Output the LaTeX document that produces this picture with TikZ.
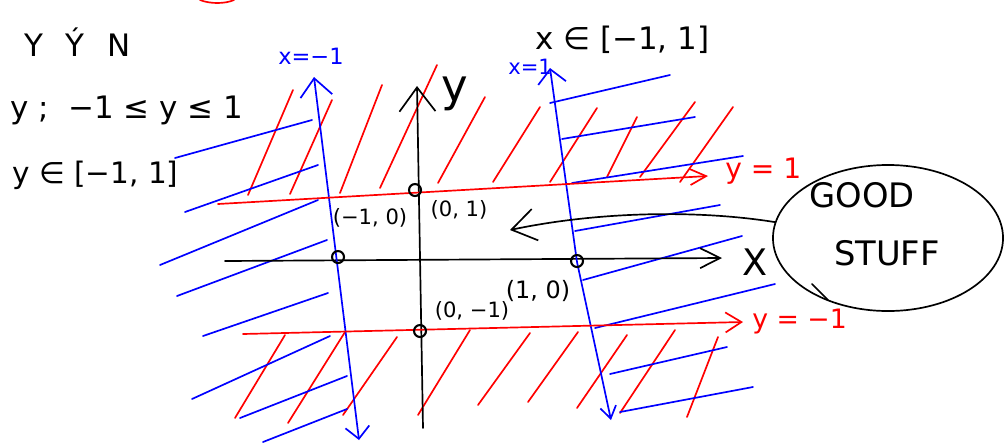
\documentclass[tikz,border=0pt]{standalone}
\usepackage{fontspec}
\setmainfont{DejaVu Sans}
\usetikzlibrary{arrows.meta,shapes.geometric}

\begin{document}
\begin{tikzpicture}[x=0.025cm,y=-0.025cm,
    pen/.style={line width=1.2pt,line cap=round,line join=round},
    dot/.style={circle,draw,line width=1.5pt,inner sep=0pt,minimum size=8.5pt},
    hand/.style={inner sep=0pt}]
				\definecolor{color1}{HTML}{FF0000} %% red pen
				\definecolor{color2}{HTML}{0000FF} %% blue pen
				\definecolor{color3}{gray}{0.}
				\useasboundingbox (0,0) rectangle (1005,442);
				%% Hatching ------
				\foreach \a/\b/\c/\d in {248/195/293/90, 290/194/332/100, 340/193/382/85, 380/188/437/65,
				  438/183/485/97, 493/182/540/107, 550/182/597/108, 607/177/637/117, 640/177/695/102,
				  680/182/733/107, 235/418/285/335, 288/423/345/332, 343/415/397/337, 418/415/470/330,
				  478/405/530/333, 528/402/578/332, 577/408/627/335, 620/413/675/330, 687/417/718/337}
				  \draw[pen,color1] (\a,\b) -- (\c,\d);
				\foreach \a/\b/\c/\d in {175/158/312/120, 185/212/318/165, 160/265/318/200, 177/296/327/240,
				  203/336/328/293, 192/399/330/336, 240/418/347/376, 263/442/347/409,
				  550/103/670/75, 562/139/695/117, 572/183/743/156, 575/231/720/205, 583/280/742/236,
				  595/328/775/284, 610/374/727/347, 620/412/753/387}
				  \draw[pen,color2] (\a,\b) -- (\c,\d);
				\draw[pen,color1] (200,0) .. controls (210,4) and (225,4) .. (234,0);
				%% Axes ---------
				\coordinate (xl) at (225,261);
				\coordinate (xr) at (722,258);
				\coordinate (yb) at (423,428);
				\coordinate (yt) at (417,86);
				\coordinate (ml) at (314,77);
				\coordinate (mb) at (359,440);
				\coordinate (pl) at (550,68);
				\coordinate (pm) at (577,262);
				\coordinate (pb) at (611,420);
				\coordinate (ul) at (218,204);
				\coordinate (ur) at (708,176);
				\coordinate (dl) at (243,334);
				\coordinate (dr) at (743,322);
				\draw[pen,color3,-{Straight Barb[length=5mm,width=5mm]}] (xl) -- (xr);
				\draw[pen,color3,-{Straight Barb[length=6mm,width=9mm]}] (yb) -- (yt);
				\draw[pen,color2,{Straight Barb[length=3mm,width=6mm]}-{Straight Barb[length=4.5mm,width=8mm]}] (mb) -- (ml);
				\draw[pen,color2,{Straight Barb[length=3mm,width=4mm]}-{Straight Barb[length=3.5mm,width=7mm]}] (pb) -- (pm) -- (pl);
				\draw[pen,color1,-{Straight Barb[length=4mm,width=4mm]}] (ul) -- (ur);
				\draw[pen,color1,-{Straight Barb[length=4mm,width=5mm]}] (dl) -- (dr);
				%% Points ------
				\node[dot] (p1) at (415,190) {};
				\node[dot] (p2) at (338,257) {};
				\node[dot] (p3) at (577,261) {};
				\node[dot] (p4) at (420,331) {};
				%% Labels ------
				\node[hand,anchor=base west,font=\fontsize{22}{26}\selectfont] (yyn) at (24,56) {Y\hspace{16pt}Ý\hspace{16pt}N};
				\node[hand,anchor=base west,font=\fontsize{22}{26}\selectfont] (ineq) at (10,118) {y ;\ \ −1 ≤ y ≤ 1};
				\node[hand,anchor=base west,font=\fontsize{21}{25}\selectfont] (yint) at (12,183) {y ∈ [−1, 1]};
				\node[hand,anchor=base west,font=\fontsize{22}{26}\selectfont] (xint) at (535,49) {x ∈ [−1, 1]};
				\node[hand,anchor=base west,text=color2,font=\fontsize{16}{18}\selectfont] (xm) at (278,64) {x=−1};
				\node[hand,anchor=base west,text=color2,font=\fontsize{15}{17}\selectfont] (xp) at (508,74) {x=1};
				\node[hand,font=\fontsize{32}{36}\selectfont] (ylab) at (455,94) {y};
				\node[hand,font=\fontsize{26}{30}\selectfont] (xlab) at (755,262) {X};
				\node[hand,anchor=base west,text=color1,font=\fontsize{20}{24}\selectfont] (yone) at (725,178) {y = 1};
				\node[hand,anchor=base west,text=color1,font=\fontsize{19}{22}\selectfont] (ymone) at (752,328) {y = −1};
				\node[hand,font=\fontsize{15}{17}\selectfont] (lm) at (370,218) {(−1, 0)};
				\node[hand,font=\fontsize{15}{17}\selectfont] (lu) at (459,210) {(0, 1)};
				\node[hand,font=\fontsize{15}{17}\selectfont] (ld) at (472,311) {(0, −1)};
				\node[hand,font=\fontsize{17}{19}\selectfont] (lr) at (538,291) {(1, 0)};
				%% Good stuff ------
				\node[ellipse,draw,pen,minimum width=5.75cm,minimum height=3.65cm] (blob) at (888,238) {};
				\node[hand,font=\fontsize{24}{28}\selectfont] (good) at (862,195) {GOOD};
				\node[hand,font=\fontsize{24}{28}\selectfont] (stuff) at (887,253) {STUFF};
				\coordinate (tip) at (510,230);
				\draw[pen,color3,-{Straight Barb[length=6mm,width=8mm]}] (blob.172) .. controls (700,210) and (600,211) .. (tip);
				\draw[pen,color3] (812,284) -- (828,300);
			\end{tikzpicture}
\end{document}
